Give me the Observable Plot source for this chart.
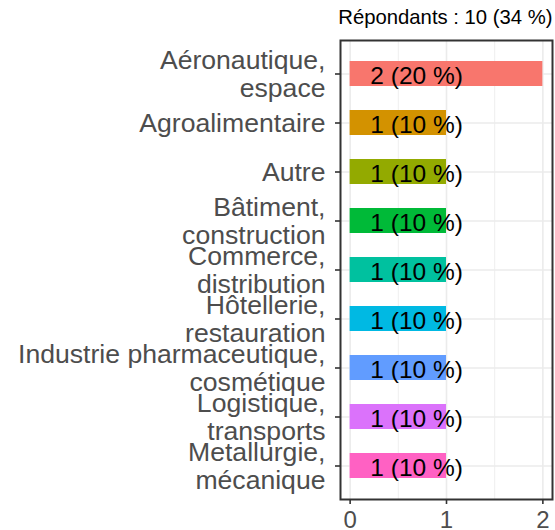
<!DOCTYPE html>
<html><head><meta charset="utf-8">
<script src="https://cdn.jsdelivr.net/npm/d3@7"></script>
<script src="https://cdn.jsdelivr.net/npm/@observablehq/plot@0.6"></script>
<style>body{margin:0;background:#fff}</style>
</head><body><div id="chart"></div>
<script>
const categories = ["Aéronautique, espace","Agroalimentaire","Autre","Bâtiment, construction","Commerce, distribution","Hôtellerie, restauration","Industrie pharmaceutique, cosmétique","Logistique, transports","Metallurgie, mécanique"];
const categoryLabels = ["Aéronautique,\nespace","Agroalimentaire","Autre","Bâtiment,\nconstruction","Commerce,\ndistribution","Hôtellerie,\nrestauration","Industrie pharmaceutique,\ncosmétique","Logistique,\ntransports","Metallurgie,\nmécanique"];
const counts = [2,1,1,1,1,1,1,1,1];
const barLabels = ["2 (20 %)","1 (10 %)","1 (10 %)","1 (10 %)","1 (10 %)","1 (10 %)","1 (10 %)","1 (10 %)","1 (10 %)"];
const colors = ["#F8766D","#D39200","#93AA00","#00BA38","#00C19F","#00B9E3","#619CFF","#DB72FB","#FF61C3"];
const xTicks = [0,1,2];
const xMinorTicks = [0.5,1.5];
const title = "Répondants : 10 (34 %)";

const data = categories.map((c,i)=>({cat:c, n:counts[i], label:barLabels[i], color:colors[i]}));
const labelMap = new Map(categories.map((c,i)=>[c, categoryLabels[i]]));

const chart = Plot.plot({
  width:555, height:530,
  marginLeft:340, marginRight:3, marginTop:40, marginBottom:31,
  style:{fontFamily:"'Liberation Sans', Arial, sans-serif", background:"white", overflow:"visible"},
  x:{domain:[-0.1,2.1], ticks:xTicks},
  y:{domain:categories, paddingInner:0.5, paddingOuter:0.35},
  marks:[
    Plot.gridX(xMinorTicks,{stroke:"#EBEBEB", strokeOpacity:1, strokeWidth:0.8}),
    Plot.gridX(xTicks,{stroke:"#EBEBEB", strokeOpacity:1, strokeWidth:1.6}),
    Plot.gridY({stroke:"#EBEBEB", strokeOpacity:1, strokeWidth:1.6}),
    Plot.barX(data,{x:"n", y:"cat", fill:"color"}),
    Plot.text(data,{x:()=>0.69, y:"cat", text:"label", fontSize:24.5, fill:"black", dy:2}),
    Plot.frame({stroke:"#333333", strokeWidth:2}),
    Plot.text([title],{frameAnchor:"top-right", dy:-23, lineAnchor:"middle", fontSize:20.3, fill:"black"}),
    Plot.axisX({ticks:xTicks, tickFormat:d3.format("d"), tickSize:5, tickPadding:6, fontSize:24, fill:"#4D4D4D", stroke:"#333333", strokeWidth:1.6, label:null}),
    Plot.axisY({tickSize:5, tickPadding:10, fontSize:26.6, lineHeight:1.07, fill:"#4D4D4D", stroke:"#333333", strokeWidth:1.6, label:null, tickFormat:d=>labelMap.get(d)})
  ]
});
document.getElementById("chart").append(chart);
</script>
</body></html>
